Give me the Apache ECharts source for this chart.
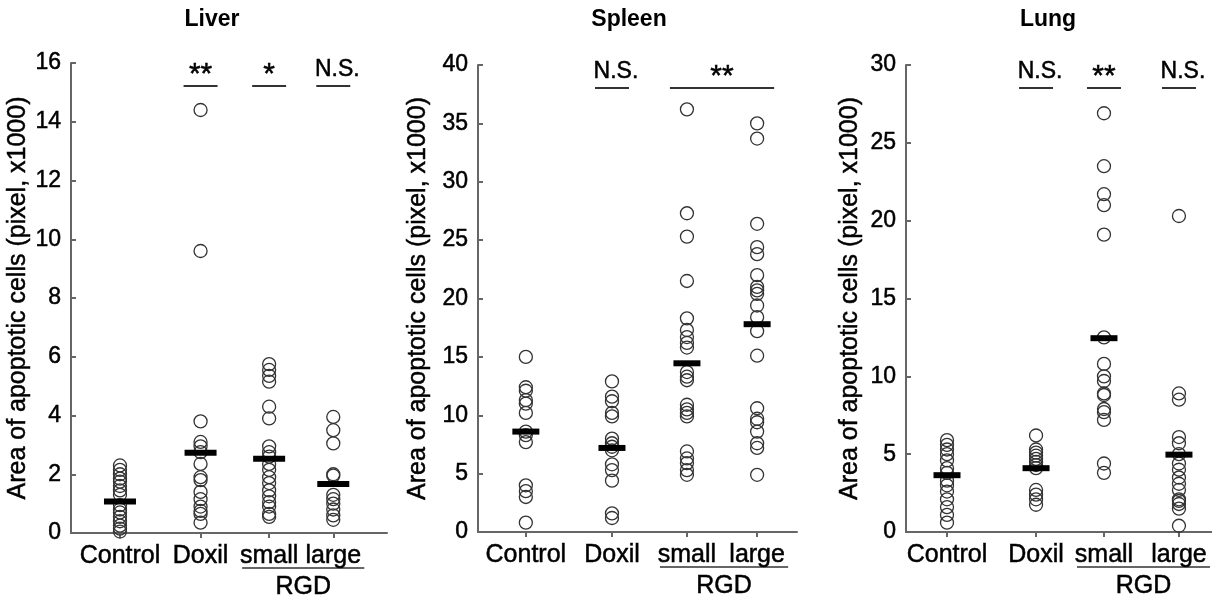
<!DOCTYPE html>
<html>
<head>
<meta charset="utf-8">
<script src="https://cdn.jsdelivr.net/npm/echarts@6/dist/echarts.min.js"></script>
<style>
  html, body { margin: 0; padding: 0; background: #fff; }
  #main { width: 1212px; height: 597px; }
</style>
</head>
<body>
<div id="main"></div>
<script>
// groups and values (pixel area x1000)
const groups = ['Control', 'Doxil', 'small', 'large'];
const yTitle = 'Area of apoptotic cells (pixel, x1000)';

const liverControl = [2.3, 2.15, 2.0, 1.85, 1.75, 1.6, 1.45, 1.3, 0.95, 0.8, 0.7, 0.55, 0.4, 0.25, 0.15, 0.05];
const liverDoxil = [14.4, 9.6, 3.8, 3.1, 2.95, 2.75, 2.35, 1.9, 1.8, 1.4, 1.15, 0.9, 0.75, 0.65, 0.35];
const liverSmall = [5.75, 5.55, 5.35, 5.15, 4.3, 3.9, 2.95, 2.75, 2.6, 2.35, 2.15, 1.9, 1.7, 1.45, 1.25, 1.05, 0.9, 0.65, 0.55];
const liverLarge = [3.95, 3.5, 3.05, 2.0, 1.95, 1.3, 1.15, 1.0, 0.8, 0.6, 0.45];
const liverMeans = [1.07, 2.73, 2.53, 1.67];

const spleenControl = [15.0, 12.4, 12.1, 11.3, 11.0, 10.2, 8.6, 8.3, 7.7, 4.0, 3.5, 3.0, 0.8];
const spleenDoxil = [12.9, 11.6, 11.2, 10.2, 9.9, 8.0, 7.6, 7.3, 7.0, 5.8, 5.3, 4.4, 1.6, 1.2];
const spleenSmall = [36.2, 27.3, 25.3, 21.5, 18.3, 17.3, 16.7, 16.2, 15.8, 13.7, 13.3, 13.0, 10.9, 10.5, 10.2, 9.9, 6.9, 6.3, 5.9, 5.3, 4.9];
const spleenLarge = [35.0, 33.7, 26.4, 24.4, 23.8, 22.0, 21.0, 20.7, 20.4, 19.4, 18.4, 17.2, 15.1, 10.6, 9.7, 9.4, 8.6, 7.6, 7.2, 4.9];
const spleenMeans = [8.6, 7.2, 14.45, 17.8];

const lungControl = [5.9, 5.6, 5.3, 5.0, 4.6, 4.1, 3.8, 3.3, 3.0, 2.6, 2.1, 1.6, 1.1, 0.6];
const lungDoxil = [6.2, 5.3, 5.1, 4.9, 4.7, 4.5, 4.3, 4.1, 2.7, 2.4, 2.1, 1.75];
const lungSmall = [26.9, 23.5, 21.7, 21.0, 19.1, 12.5, 10.8, 10.0, 9.7, 8.9, 8.8, 7.9, 7.7, 7.2, 4.4, 3.8];
const lungLarge = [20.3, 8.9, 8.5, 6.1, 5.7, 5.0, 4.4, 4.0, 3.5, 3.1, 2.7, 2.1, 2.0, 1.8, 1.5, 0.4];
const lungMeans = [3.65, 4.1, 12.45, 4.97];

// significance marks: [from group, to group, text]
const liverSig = [[1, 1, '**'], [2, 2, '*'], [3, 3, 'N.S.']];
const spleenSig = [[1, 1, 'N.S.'], [2, 3, '**']];
const lungSig = [[1, 1, 'N.S.'], [2, 2, '**'], [3, 3, 'N.S.']];

const panels = [
  { title: 'Liver', values: [liverControl, liverDoxil, liverSmall, liverLarge], means: liverMeans,
    sig: liverSig, max: 16, interval: 2, pos: [15.5, 41, 62.7, 83], barW: 32,
    grid: { left: 71, top: 63, width: 316, height: 470 }, titleX: 207, nameGap: 38 },
  { title: 'Spleen', values: [spleenControl, spleenDoxil, spleenSmall, spleenLarge], means: spleenMeans,
    sig: spleenSig, max: 40, interval: 5, pos: [15, 42, 65.5, 87.5], barW: 27,
    grid: { left: 478, top: 65, width: 319, height: 467 }, titleX: 624, nameGap: 47 },
  { title: 'Lung', values: [lungControl, lungDoxil, lungSmall, lungLarge], means: lungMeans,
    sig: lungSig, max: 30, interval: 5, pos: [13.4, 42.5, 64.7, 89.2], barW: 27,
    grid: { left: 906, top: 65, width: 306, height: 467 }, titleX: 1043, nameGap: 43 }
];

const FONT = 'Liberation Sans, Arial, sans-serif';
const axisColor = '#666';
// a thin outline of the same colour makes the glyphs as heavy as in the picture
const heavy = { textBorderColor: '#000', textBorderWidth: 0.5 };
const heavyG = { stroke: '#000', lineWidth: 0.5 };

const option = {
  animation: false,
  textStyle: { fontFamily: FONT },
  title: panels.map(p => ({
    text: p.title, left: p.titleX, top: 3, textAlign: 'center',
    textStyle: { fontFamily: FONT, fontSize: 23, fontWeight: 'bold', color: '#000' }
  })),
  grid: panels.map(p => p.grid),
  xAxis: panels.map((p, k) => ({
    type: 'value', gridIndex: k, min: 0, max: 100,
    axisLine: { show: true, onZero: false, lineStyle: { color: axisColor, width: 2 } },
    axisTick: { show: true, customValues: p.pos, length: 5, lineStyle: { color: axisColor, width: 2 } },
    axisLabel: Object.assign({
      customValues: p.pos, margin: 11, fontSize: 25, color: '#000', fontFamily: FONT,
      formatter: v => groups[p.pos.indexOf(v)]
    }, heavy),
    splitLine: { show: false }
  })),
  yAxis: panels.map((p, k) => ({
    type: 'value', gridIndex: k, min: 0, max: p.max, interval: p.interval,
    name: yTitle, nameLocation: 'middle', nameGap: p.nameGap,
    nameTextStyle: Object.assign({ fontSize: 25, color: '#000', fontFamily: FONT }, heavy),
    axisLine: { show: true, lineStyle: { color: axisColor, width: 2 } },
    axisTick: { show: true, inside: true, length: 5, lineStyle: { color: axisColor, width: 2 } },
    axisLabel: Object.assign({ fontSize: 23, color: '#000', margin: 10, fontFamily: FONT }, heavy),
    splitLine: { show: false }
  })),
  series: []
};

panels.forEach((p, k) => {
  const pts = [];
  p.values.forEach((vals, i) => vals.forEach(v => pts.push([p.pos[i], v])));
  option.series.push({
    type: 'scatter', xAxisIndex: k, yAxisIndex: k, data: pts,
    symbol: 'circle', symbolSize: 13, z: 2,
    itemStyle: { color: 'rgba(0,0,0,0)', borderColor: '#333', borderWidth: 1.3, opacity: 1 }
  });
  option.series.push({
    type: 'scatter', xAxisIndex: k, yAxisIndex: k,
    data: p.means.map((m, i) => [p.pos[i], m]),
    symbol: 'rect', symbolSize: [p.barW, 6], z: 3,
    itemStyle: { color: '#000', opacity: 1 }
  });
});

const chart = echarts.init(document.getElementById('main'));
chart.setOption(option);

// significance bars, texts and the RGD bracket, placed through each grid's scales
const graphics = [];
panels.forEach((p, k) => {
  const top = chart.convertToPixel({ gridIndex: k }, [0, p.max])[1];
  const base = chart.convertToPixel({ gridIndex: k }, [0, 0])[1];
  const px = i => chart.convertToPixel({ gridIndex: k }, [p.pos[i], 0])[0];
  p.sig.forEach(([a, b, txt]) => {
    const x1 = px(a) - 17, x2 = px(b) + 17;
    const ly = top + 23;
    const star = txt.indexOf('*') >= 0;
    graphics.push({ type: 'line', shape: { x1: x1, y1: ly, x2: x2, y2: ly },
      style: { stroke: '#333', lineWidth: 2 } });
    graphics.push({ type: 'text', x: (x1 + x2) / 2 + (star ? 0 : 4), y: star ? ly + 4 : ly - 5,
      style: Object.assign({ text: txt, fontSize: star ? 30 : 23, fontFamily: FONT, fill: '#000',
        textAlign: 'center', textVerticalAlign: 'bottom' }, heavyG) });
  });
  const rx1 = px(2) - 27, rx2 = px(3) + 31;
  graphics.push({ type: 'line', shape: { x1: rx1, y1: base + 35, x2: rx2, y2: base + 35 },
    style: { stroke: '#333', lineWidth: 1.5 } });
  graphics.push({ type: 'text', x: (rx1 + rx2) / 2, y: base + 54,
    style: Object.assign({ text: 'RGD', fontSize: 25, fontFamily: FONT, fill: '#000',
      textAlign: 'center', textVerticalAlign: 'middle' }, heavyG) });
});
chart.setOption({ graphic: graphics });
</script>
</body>
</html>
